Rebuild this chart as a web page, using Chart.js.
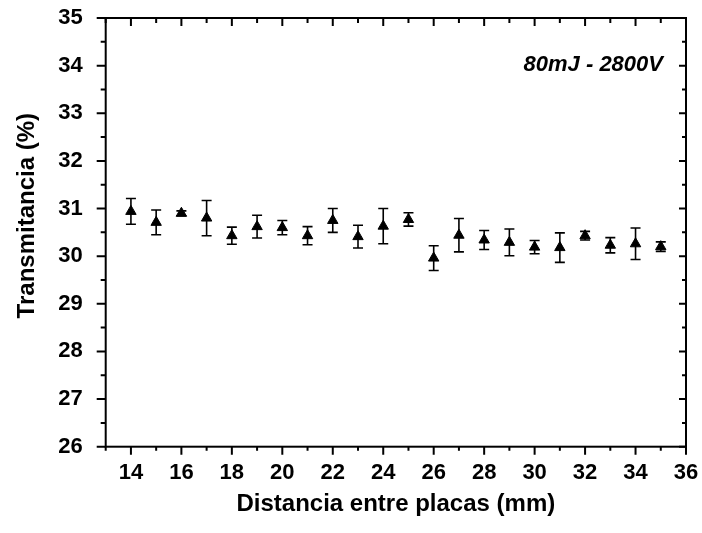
<!DOCTYPE html>
<html>
<head>
<meta charset="utf-8">
<script src="https://cdn.jsdelivr.net/npm/chart.js@4"></script>
<style>
  html, body { margin:0; padding:0; background:#fff; }
  #wrap { width:702px; height:533px; }
</style>
</head>
<body>
<div id="wrap"><canvas id="c" width="702" height="533"></canvas></div>
<script>
// ---- data ----
const distances = [14,15,16,17,18,19,20,21,22,23,24,25,26,27,28,29,30,31,32,33,34,35];
const transm    = [30.94,30.71,30.90,30.80,30.43,30.62,30.60,30.43,30.75,30.41,30.63,30.77,29.96,30.44,30.34,30.29,30.19,30.18,30.43,30.23,30.26,30.20];
const errs      = [0.27,0.26,0.05,0.37,0.18,0.24,0.15,0.19,0.25,0.24,0.37,0.14,0.26,0.35,0.20,0.28,0.14,0.31,0.09,0.16,0.33,0.10];

const xTicks = [14,16,18,20,22,24,26,28,30,32,34,36];
const yTicks = [26,27,28,29,30,31,32,33,34,35];
const annotation = "80mJ - 2800V";

const FONT = "'Liberation Sans', Arial, sans-serif";

// error bars + axis box + tick marks + label
const decor = {
  id: "decor",
  afterDatasetsDraw(chart){
    const {ctx, chartArea:a, scales:{x, y}} = chart;
    ctx.save();
    ctx.strokeStyle = "#000";
    ctx.lineWidth = 1.6;
    distances.forEach((d, i)=>{
      const px = x.getPixelForValue(d);
      const top = y.getPixelForValue(transm[i] + errs[i]);
      const bot = y.getPixelForValue(transm[i] - errs[i]);
      ctx.beginPath();
      ctx.moveTo(px, top); ctx.lineTo(px, bot);
      ctx.moveTo(px-5, top); ctx.lineTo(px+5, top);
      ctx.moveTo(px-5, bot); ctx.lineTo(px+5, bot);
      ctx.stroke();
    });

    // frame
    ctx.lineWidth = 2;
    ctx.strokeRect(a.left, a.top, a.right - a.left, a.bottom - a.top);

    // ticks
    ctx.beginPath();
    for (let v = 13; v <= 36; v++){
      const px = x.getPixelForValue(v);
      const major = v % 2 === 0;
      ctx.moveTo(px, a.bottom); ctx.lineTo(px, a.bottom + (major ? 8 : 4));
      ctx.moveTo(px, a.top);    ctx.lineTo(px, a.top + (major ? 8 : 5));
    }
    for (let v = 26; v <= 35; v += 0.5){
      const py = y.getPixelForValue(v);
      const major = Number.isInteger(v);
      ctx.moveTo(a.left, py);  ctx.lineTo(a.left - (major ? 9 : 5), py);
      ctx.moveTo(a.right, py); ctx.lineTo(a.right - (major ? 7 : 4), py);
    }
    ctx.stroke();

    ctx.fillStyle = "#000";
    ctx.font = `italic bold 22px ${FONT}`;
    ctx.textAlign = "right";
    ctx.textBaseline = "alphabetic";
    ctx.fillText(annotation, 663, 71);
    ctx.restore();
  }
};

new Chart(document.getElementById("c"), {
  type: "scatter",
  data: {
    datasets: [{
      data: distances.map((d, i)=>({x:d, y:transm[i]})),
      pointStyle: "triangle",
      pointRadius: 6,
      pointBackgroundColor: "#000",
      pointBorderColor: "#000",
      pointBorderWidth: 1
    }]
  },
  options: {
    responsive: false,
    animation: false,
    events: [],
    layout: { padding: { top: 18, right: 16, left: 0, bottom: 0 } },
    plugins: { legend: { display: false }, tooltip: { enabled: false } },
    scales: {
      x: {
        type: "linear", min: 13, max: 36,
        grid: { display: false }, border: { display: false },
        afterBuildTicks: (s)=>{ s.ticks = xTicks.map(v=>({value:v})); },
        afterFit: (s)=>{ s.height = 86.3; s.paddingLeft = 0; s.paddingRight = 0; },
        ticks: { color:"#000", padding: 5, maxRotation: 0, font: { family: FONT, size: 22, weight: "bold" } },
        title: { display: true, text: "Distancia entre placas (mm)", color:"#000",
                 padding: { top: 8, bottom: 14 }, font: { family: FONT, size: 24, weight: "bold" } }
      },
      y: {
        type: "linear", min: 26, max: 35,
        grid: { display: false }, border: { display: false },
        afterBuildTicks: (s)=>{ s.ticks = yTicks.map(v=>({value:v})); },
        afterFit: (s)=>{ s.width = 105.7; s.paddingTop = 0; s.paddingBottom = 0; },
        ticks: { color:"#000", padding: 15, font: { family: FONT, size: 22, weight: "bold" } },
        title: { display: true, text: "     Transmitancia (%)", color:"#000",
                 padding: { top: 13, bottom: 0 }, font: { family: FONT, size: 24, weight: "bold" } }
      }
    }
  },
  plugins: [decor]
});
</script>
</body>
</html>
